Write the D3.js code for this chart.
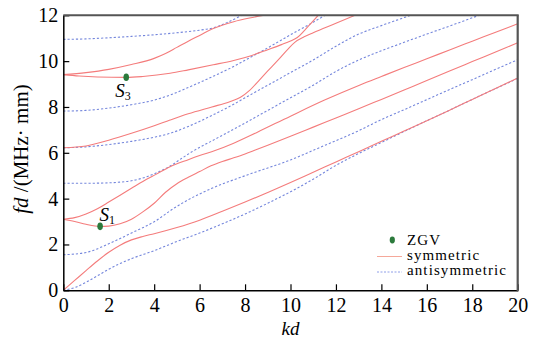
<!DOCTYPE html>
<html><head><meta charset="utf-8">
<script src="https://cdn.jsdelivr.net/npm/d3@7"></script>
<style>body{margin:0;background:#fff}</style>
</head><body><svg id="c" width="546" height="339"></svg>
<script>
const kdTicks=[0,2,4,6,8,10,12,14,16,18,20];
const fdTicks=[0,2,4,6,8,10,12];
const S0=[[0,0],[0.5,0.43],[1,0.86],[1.5,1.28],[2,1.66],[2.5,1.97],[3,2.2],[3.5,2.35],[4,2.47],[5,2.74],[6,3.06],[7,3.45],[8,3.85],[9,4.27],[10,4.7],[11,5.15],[12,5.6],[13,6.05],[14,6.5],[15,6.95],[16,7.4],[17,7.86],[18,8.33],[19,8.8],[20,9.26]];
const S1=[[0,3.1],[0.5,3.0],[1,2.88],[1.62,2.79],[2,2.8],[2.5,2.9],[3,3.1],[3.5,3.42],[4,3.8],[4.5,4.28],[5,4.65],[5.5,4.93],[6,5.18],[6.5,5.43],[7,5.62],[7.5,5.78],[8,5.95],[8.45,6.12],[9,6.33],[10,6.72],[11,7.12],[12,7.52],[13,7.92],[14,8.33],[15,8.74],[16,9.15],[17,9.57],[18,9.98],[19,10.39],[20,10.8]];
const S2=[[0,3.1],[0.5,3.17],[1,3.33],[1.5,3.56],[2,3.85],[2.5,4.15],[3,4.45],[3.5,4.75],[4.1,5.07],[4.7,5.39],[5.5,5.7],[6,5.88],[6.68,6.1],[7.5,6.42],[8.5,6.88],[10,7.6],[11.5,8.3],[13.06,8.96],[14,9.33],[15,9.72],[16,10.1],[17,10.49],[18,10.87],[19,11.25],[20,11.63]];
const S3=[[0,6.22],[1,6.3],[2,6.55],[3,6.85],[4,7.18],[4.7,7.43],[5.5,7.7],[6.54,8.0],[7.3,8.22],[7.8,8.42],[8.2,8.72],[8.6,9.14],[9,9.57],[9.5,10.1],[9.9,10.54],[10.2,10.83],[10.6,11.06],[11,11.24],[12,11.65],[12.84,12]];
const S4=[[0,9.41],[0.7,9.35],[1.5,9.31],[2.77,9.29],[3.5,9.33],[4.7,9.47],[5.5,9.62],[6.6,9.84],[7.5,10.03],[8.3,10.25],[9,10.5],[9.6,10.72],[10,10.88],[10.3,11.03],[10.6,11.32],[10.9,11.65],[11.22,12]];
const S5=[[0,9.41],[1,9.5],[2,9.64],[3,9.85],[4,10.12],[4.5,10.33],[5,10.6],[5.5,10.87],[6,11.12],[6.6,11.42],[7.5,11.72],[8.2,11.88],[8.85,12]];
const A0=[[0,0],[0.5,0.12],[1,0.35],[1.5,0.63],[2,0.92],[2.5,1.17],[3,1.38],[4,1.73],[5,2.13],[6,2.5],[7,2.9],[8,3.33],[9,3.8],[10,4.3],[11,4.85],[12,5.45],[13,5.97],[14,6.45],[15,6.93],[16,7.4],[17,7.86],[18,8.33],[19,8.79],[20,9.25]];
const A1=[[0,1.55],[1,1.65],[2,2.03],[3,2.5],[4,2.99],[4.9,3.6],[5.5,3.95],[6.54,4.45],[8,5.0],[10,5.69],[11.5,6.32],[13.06,6.99],[14,7.45],[15,7.88],[16,8.32],[17,8.76],[18,9.19],[19,9.63],[20,10.06]];
const A2=[[0,4.67],[1,4.67],[2,4.69],[2.5,4.72],[3,4.78],[3.5,4.9],[4.04,5.1],[4.7,5.42],[5.2,5.75],[5.72,6.08],[6.54,6.52],[8,7.3],[9,7.85],[10,8.4],[11,8.95],[12,9.55],[13,10.05],[14,10.45],[15,10.82],[16,11.18],[17,11.53],[18.3,12]];
const A3=[[0,6.22],[1,6.26],[2,6.36],[3,6.5],[4,6.68],[4.7,6.85],[5.5,7.15],[6.54,7.63],[7.5,8.12],[8,8.4],[9,8.95],[10,9.5],[11,10.05],[12,10.65],[13,11.18],[14,11.55],[15,11.9],[15.29,12]];
const A4=[[0,7.82],[1,7.85],[2,7.95],[3,8.1],[4,8.3],[4.7,8.52],[5.5,8.85],[6.54,9.31],[7.5,9.77],[8.3,10.2],[9,10.58],[10,11.15],[11,11.7],[11.52,12]];
const A5=[[0,10.95],[1,10.97],[2,11.02],[3,11.08],[4,11.15],[4.7,11.21],[5.5,11.29],[6.2,11.38],[6.6,11.45],[7.2,11.68],[7.85,12]];
const symmetric=[S0,S1,S2,S3,S4,S5];
const antisymmetric=[A0,A1,A2,A3,A4,A5];
const zgv=[{kd:1.62,fd:2.79,sub:"1",dx:-0.5,dy:-5},{kd:2.77,fd:9.3,sub:"3",dx:-11,dy:20}];
const legendItems=["ZGV","symmetric","antisymmetric"];

const FONT="Liberation Serif";
const svg=d3.select("#c");
const x=d3.scaleLinear().domain([0,20]).range([63.3,517.7]);
const y=d3.scaleLinear().domain([0,12]).range([290.3,15.3]);
svg.append("defs").append("clipPath").attr("id","clip").append("rect")
  .attr("x",x(0)).attr("y",y(12)).attr("width",x(20)-x(0)).attr("height",y(0)-y(12));
const line=d3.line().x(d=>x(d[0])).y(d=>y(d[1])).curve(d3.curveMonotoneX);
const g=svg.append("g").attr("clip-path","url(#clip)");
g.selectAll("path.a").data(antisymmetric).join("path").attr("class","a")
  .attr("d",line).attr("fill","none").attr("stroke","#7486dc").attr("stroke-width",1.1).attr("stroke-dasharray","2.2,2");
g.selectAll("path.s").data(symmetric).join("path").attr("class","s")
  .attr("d",line).attr("fill","none").attr("stroke","#f47c7c").attr("stroke-width",1.1);

const xa=svg.append("g").attr("transform",`translate(0,${y(0)})`)
  .call(d3.axisBottom(x).tickValues(kdTicks).tickSizeInner(-6).tickSizeOuter(0).tickPadding(8));
const ya=svg.append("g").attr("transform",`translate(${x(0)},0)`)
  .call(d3.axisLeft(y).tickValues(fdTicks).tickSizeInner(-6).tickSizeOuter(0).tickPadding(5));
[xa,ya].forEach(a=>{a.attr("font-family",FONT).attr("font-size",20);
  a.select(".domain").attr("stroke","#000").attr("stroke-width",1.5);
  a.selectAll(".tick line").attr("stroke","#000").attr("stroke-width",1.2);
  a.selectAll("text").attr("fill","#000");});
svg.append("line").attr("x1",x(0)).attr("x2",x(20)+1).attr("y1",y(12)).attr("y2",y(12)).attr("stroke","#555").attr("stroke-width",2);
svg.append("line").attr("x1",x(20)).attr("x2",x(20)).attr("y1",y(12)).attr("y2",y(0)+1).attr("stroke","#555").attr("stroke-width",2.2);

svg.selectAll("ellipse.z").data(zgv).join("ellipse").attr("class","z")
  .attr("cx",d=>x(d.kd)).attr("cy",d=>y(d.fd)).attr("rx",2.8).attr("ry",3.8).attr("fill","#2c7a3c");
const lab=svg.selectAll("text.zl").data(zgv).join("text").attr("class","zl")
  .attr("x",d=>x(d.kd)+d.dx).attr("y",d=>y(d.fd)+d.dy)
  .attr("font-family",FONT).attr("font-size",19).attr("font-style","italic");
lab.append("tspan").text("S");
lab.append("tspan").attr("font-size",12).attr("font-style","normal").attr("dy",3).text(d=>d.sub);

svg.append("text").attr("x",x(10)).attr("y",335).attr("text-anchor","middle")
  .attr("font-family",FONT).attr("font-size",19).attr("font-style","italic").text("kd");
const yt=svg.append("text").attr("transform","translate(28,149) rotate(-90)").attr("text-anchor","middle")
  .attr("font-family",FONT).attr("font-size",21);
yt.append("tspan").attr("font-style","italic").text("fd");
yt.append("tspan").text(" /(MHz\u00b7 mm)");

const lg=svg.append("g").attr("font-family",FONT).attr("font-size",15);
lg.append("ellipse").attr("cx",392.3).attr("cy",240).attr("rx",2.6).attr("ry",3.4).attr("fill","#2c7a3c");
lg.append("line").attr("x1",377).attr("x2",402).attr("y1",256.5).attr("y2",256.5).attr("stroke","#f5a89a").attr("stroke-width",1);
lg.append("line").attr("x1",377).attr("x2",402).attr("y1",272).attr("y2",272).attr("stroke","#8e9ee8").attr("stroke-width",1).attr("stroke-dasharray","2,1.5");
lg.selectAll("text").data(legendItems).join("text").attr("x",407).attr("y",(d,i)=>245+i*15)
  .attr("letter-spacing",1.1).text(d=>d);
</script></body></html>
